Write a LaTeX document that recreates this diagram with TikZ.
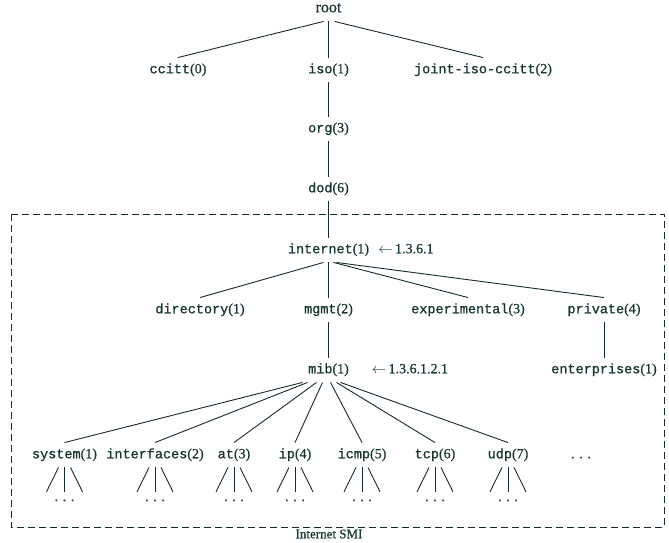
\documentclass[tikz,border=0pt]{standalone}
\usepackage{fontspec}
\setmainfont{Liberation Serif}[FakeBold=0.6]
\setmonofont{Liberation Mono}[FakeBold=0.9]
\definecolor{ink}{HTML}{17362D}
\definecolor{wire}{HTML}{162C26}
\newcommand\oid[2]{{\ttfamily\fontsize{13.5}{15}\selectfont #1}(#2)}
\newcommand\oidarrow[1]{\ensuremath{\leftarrow}\,#1}
\begin{document}
\begin{tikzpicture}[x=1pt,y=-1pt,
  lbl/.style={inner xsep=0pt, inner ysep=6pt, text height=9.5pt, text depth=3pt,
    font=\fontsize{14}{16}\selectfont, text=ink},
  dotsbox/.style={inner sep=0pt, text height=9pt, text depth=0pt, anchor=base,
    font=\fontsize{14}{16}\selectfont, text=ink},
  edge/.style={draw=wire, line width=0.9pt},
  frame/.style={draw=wire, line width=0.9pt, dash pattern=on 7pt off 4pt}]
\useasboundingbox (0,0) rectangle (669,543);

% dashed frame
\draw[frame] (11,214) rectangle (664,527);
\node[lbl, font=\fontsize{13}{15}\selectfont] (smi) at (329,535) {Internet SMI};

% upper tree
\node[lbl, font=\fontsize{16}{18}\selectfont] (root) at (328.5,9) {root};
\node[lbl] (ccitt) at (178,70) {\oid{ccitt}{0}};
\node[lbl] (iso) at (328.5,70) {\oid{iso}{1}};
\node[lbl] (joint) at (483,70) {\oid{joint-iso-ccitt}{2}};
\node[lbl] (org) at (328.5,129) {\oid{org}{3}};
\node[lbl] (dod) at (328.5,189) {\oid{dod}{6}};

\draw[edge] ([xshift=-5pt]root.south) -- (ccitt.north);
\draw[edge] (root.south) -- (iso.north);
\draw[edge] ([xshift=6pt]root.south) -- (joint.north);
\draw[edge] (iso.south) -- (org.north);
\draw[edge] (org.south) -- (dod.north);

% internet subtree
\node[lbl] (internet) at (328.5,250) {\oid{internet}{1}};
\node[lbl] (inetoid) at (406,250) {\oidarrow{1.3.6.1}};
\draw[edge] (dod.south) -- (internet.north);

\node[lbl] (directory) at (200,310) {\oid{directory}{1}};
\node[lbl] (mgmt) at (328.5,310) {\oid{mgmt}{2}};
\node[lbl] (experimental) at (468,310) {\oid{experimental}{3}};
\node[lbl] (private) at (604,310) {\oid{private}{4}};

\draw[edge] ([xshift=-5pt]internet.south) -- (directory.north);
\draw[edge] (internet.south) -- (mgmt.north);
\draw[edge] ([xshift=5pt]internet.south) -- (experimental.north);
\draw[edge] ([xshift=8pt]internet.south) -- (private.north);

\node[lbl] (mib) at (328.5,370) {\oid{mib}{1}};
\node[lbl] (miboid) at (410,370) {\oidarrow{1.3.6.1.2.1}};
\node[lbl] (enterprises) at (604,370) {\oid{enterprises}{1}};
\draw[edge] (mgmt.south) -- (mib.north);
\draw[edge] (private.south) -- (enterprises.north);

% mib subtree
\node[lbl] (sys) at (64.5,455) {\oid{system}{1}};
\node[lbl] (ifc) at (155,455) {\oid{interfaces}{2}};
\node[lbl] (at) at (234,455) {\oid{at}{3}};
\node[lbl] (ip) at (295,455) {\oid{ip}{4}};
\node[lbl] (icmp) at (362,455) {\oid{icmp}{5}};
\node[lbl] (tcp) at (435,455) {\oid{tcp}{6}};
\node[lbl] (udp) at (508,455) {\oid{udp}{7}};
\node[lbl] (more) at (581,455) {. . .};

\draw[edge] ([xshift=-26pt]mib.south) -- (sys.north);
\draw[edge] ([xshift=-21pt]mib.south) -- (ifc.north);
\draw[edge] ([xshift=-12pt]mib.south) -- (at.north);
\draw[edge] ([xshift=-6pt]mib.south) -- (ip.north);
\draw[edge] ([xshift=2pt]mib.south) -- (icmp.north);
\draw[edge] ([xshift=8pt]mib.south) -- (tcp.north);
\draw[edge] ([xshift=12pt]mib.south) -- (udp.north);

\foreach \n/\x in {sys/64.5,ifc/155,at/234,ip/295,icmp/362,tcp/435,udp/508}{
  \node[dotsbox] (\n-d) at (\x,501) {. . .};
  \draw[edge] ([xshift=-6pt]\n.south) -- ([xshift=-18pt]\n-d.north);
  \draw[edge] (\n.south) -- (\n-d.north);
  \draw[edge] ([xshift=6pt]\n.south) -- ([xshift=18pt]\n-d.north);
}
\end{tikzpicture}
\end{document}
